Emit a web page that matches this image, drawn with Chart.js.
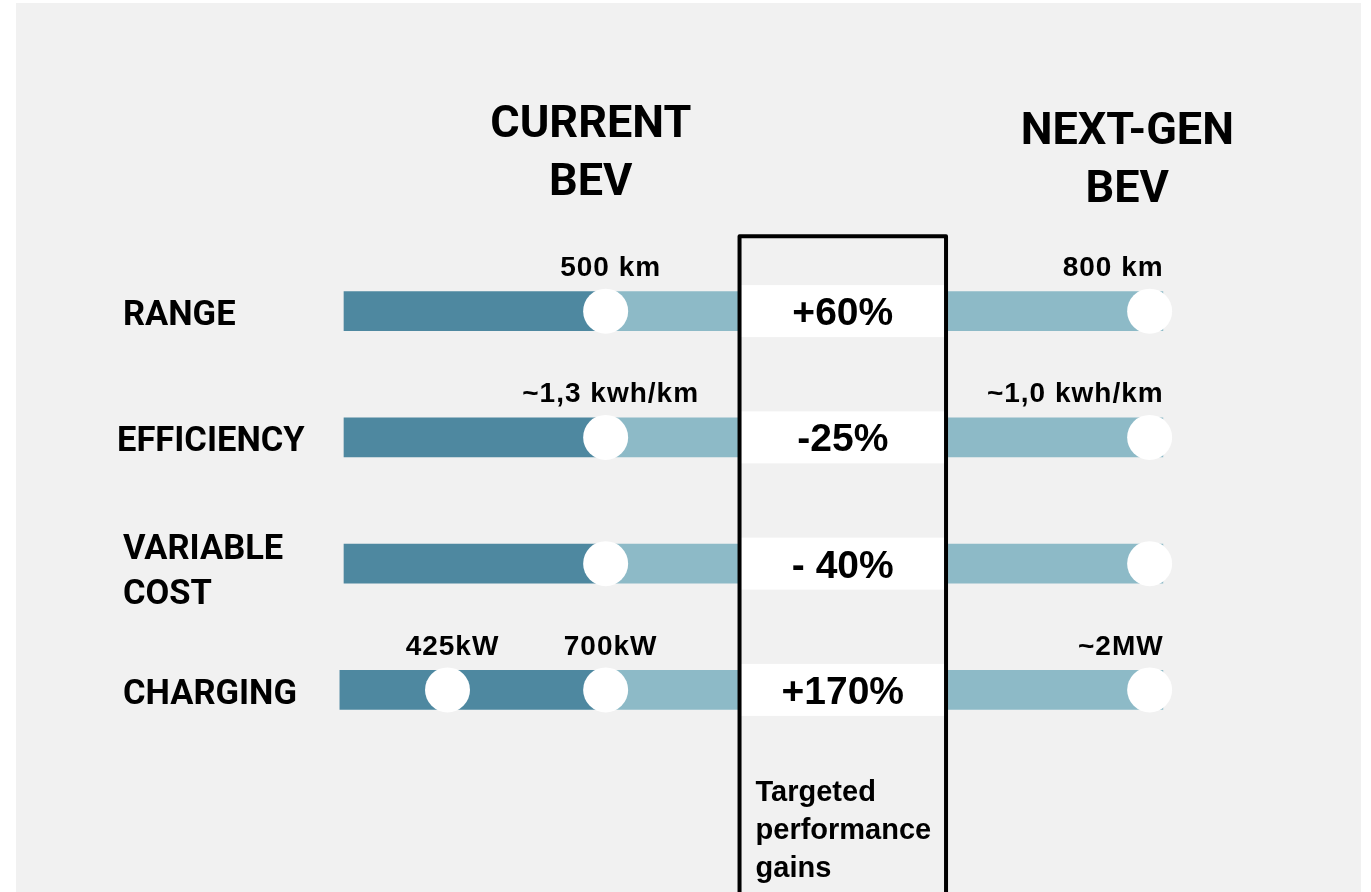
<!DOCTYPE html>
<html>
<head>
<meta charset="utf-8">
<script src="https://cdn.jsdelivr.net/npm/chart.js@4.4.1/dist/chart.umd.min.js"></script>
<style>
  html, body { margin: 0; padding: 0; background: #ffffff; }
  #wrap { width: 1371px; height: 892px; }
</style>
</head>
<body>
<div id="wrap"><canvas id="c" width="1371" height="892"></canvas></div>
<script>
// ---- data ----
const categories = ['RANGE', 'EFFICIENCY', 'VARIABLE COST', 'CHARGING'];
const rowLabels = [['RANGE'], ['EFFICIENCY'], ['VARIABLE', 'COST'], ['CHARGING']];
// positions along a 0-100 comparison track
const trackStart = [0, 0, 0, -0.5];
const currentPos = [31.6, 31.6, 31.6, 31.6];
const chargingLowPos = [null, null, null, 12.5];
const nextPos = [97.3, 97.3, 97.3, 97.3];
const trackEnd = [98.9, 98.9, 98.9, 98.9];
const currentLabels = ['500 km', '~1,3 kwh/km', '', '700kW'];
const chargingLowLabels = ['', '', '', '425kW'];
const nextLabels = ['800 km', '~1,0 kwh/km', '', '~2MW'];
const gains = ['+60%', '-25%', '- 40%', '+170%'];
const gainBox = [47.77, 72.71];
const headers = [['CURRENT', 'BEV'], ['NEXT-GEN', 'BEV']];
const boxCaption = ['Targeted', 'performance', 'gains'];

// ---- styles ----
const DARK = '#4e88a0';
const LIGHT = '#8dbac7';
const PANEL = '#f1f1f1';

const toPoints = arr => arr.map((v, i) => (v === null ? null : { x: v, y: categories[i] })).filter(p => p !== null);

const panelPlugin = {
  id: 'panel',
  beforeDraw(chart) {
    const ctx = chart.ctx;
    ctx.save();
    ctx.fillStyle = '#ffffff';
    ctx.fillRect(0, 0, chart.width, chart.height);
    ctx.fillStyle = PANEL;
    ctx.fillRect(16, 3, 1345, 889);
    ctx.restore();
  }
};

const annotPlugin = {
  id: 'annot',
  afterDatasetsDraw(chart) {
    const ctx = chart.ctx;
    const xs = chart.scales.x, ys = chart.scales.y;
    const bl = xs.getPixelForValue(gainBox[0]);
    const br = xs.getPixelForValue(gainBox[1]);
    const top = ys.getPixelForValue(0) - 75;
    ctx.save();
    // white bands
    ctx.fillStyle = '#ffffff';
    categories.forEach((c, i) => {
      const y = ys.getPixelForValue(i);
      ctx.fillRect(bl, y - 26, br - bl, 52);
    });
    // box outline
    ctx.strokeStyle = '#000000';
    ctx.lineWidth = 4;
    ctx.lineJoin = 'round';
    ctx.beginPath();
    ctx.moveTo(bl, chart.height + 10);
    ctx.lineTo(bl, top);
    ctx.lineTo(br, top);
    ctx.lineTo(br, chart.height + 10);
    ctx.stroke();

    ctx.fillStyle = '#000000';
    ctx.textBaseline = 'alphabetic';
    // gains
    ctx.font = 'bold 39px "Liberation Sans"';
    ctx.textAlign = 'center';
    categories.forEach((c, i) => {
      const y = ys.getPixelForValue(i);
      ctx.fillText(gains[i], (bl + br) / 2, y + 14);
    });
    // caption
    ctx.font = 'bold 29px "Liberation Sans"';
    ctx.textAlign = 'left';
    boxCaption.forEach((t, k) => ctx.fillText(t, bl + 16, 801 + k * 38));

    // value labels
    ctx.font = 'bold 28px "Liberation Sans"';
    ctx.letterSpacing = '1px';
    categories.forEach((c, i) => {
      const y = ys.getPixelForValue(i) - 35;
      ctx.textAlign = 'center';
      if (currentLabels[i]) ctx.fillText(currentLabels[i], xs.getPixelForValue(currentPos[i]) + 5, y);
      if (chargingLowLabels[i]) ctx.fillText(chargingLowLabels[i], xs.getPixelForValue(chargingLowPos[i]) + 5, y);
      ctx.textAlign = 'right';
      if (nextLabels[i]) ctx.fillText(nextLabels[i], xs.getPixelForValue(nextPos[i]) + 14, y);
    });
    ctx.letterSpacing = '0px';

    // row labels
    ctx.font = 'bold 34.5px Roboto';
    ctx.textAlign = 'left';
    const rowX = [123, 117, 123, 123];
    rowLabels.forEach((lines, i) => {
      const y = ys.getPixelForValue(i);
      if (lines.length === 1) {
        ctx.fillText(lines[0], rowX[i], y + 14);
      } else {
        ctx.fillText(lines[0], rowX[i], y - 5);
        ctx.fillText(lines[1], rowX[i], y + 40);
      }
    });

    // headers
    ctx.font = 'bold 45px Roboto';
    ctx.textAlign = 'center';
    const hx = [29.8, 94.6].map(v => xs.getPixelForValue(v));
    const hy = [137, 144];
    headers.forEach((lines, k) => {
      lines.forEach((t, j) => ctx.fillText(t, hx[k], hy[k] + j * 58));
    });
    ctx.restore();
  }
};

const markerStyle = {
  type: 'line',
  showLine: false,
  pointRadius: 22.5,
  pointHoverRadius: 22.5,
  pointBackgroundColor: '#ffffff',
  pointBorderWidth: 0,
  clip: false,
  order: 1
};

new Chart(document.getElementById('c'), {
  data: {
    labels: categories,
    datasets: [
      {
        type: 'bar',
        data: currentPos.map((v, i) => [trackStart[i], v]),
        backgroundColor: DARK,
        barThickness: 39,
        grouped: false,
        borderWidth: 0,
        clip: false,
        order: 3
      },
      {
        type: 'bar',
        data: currentPos.map((v, i) => [v, trackEnd[i]]),
        backgroundColor: LIGHT,
        barThickness: 39,
        grouped: false,
        borderWidth: 0,
        clip: false,
        order: 2
      },
      Object.assign({ data: toPoints(currentPos) }, markerStyle),
      Object.assign({ data: toPoints(chargingLowPos) }, markerStyle),
      Object.assign({ data: toPoints(nextPos) }, markerStyle)
    ]
  },
  options: {
    indexAxis: 'y',
    responsive: false,
    animation: false,
    devicePixelRatio: 1,
    events: [],
    layout: { padding: { left: 344, right: 199, top: 248, bottom: 139 } },
    plugins: { legend: { display: false }, tooltip: { enabled: false } },
    scales: {
      x: { type: 'linear', min: 0, max: 100, display: false },
      y: { type: 'category', offset: true, display: false }
    }
  },
  plugins: [panelPlugin, annotPlugin]
});
</script>
</body>
</html>
